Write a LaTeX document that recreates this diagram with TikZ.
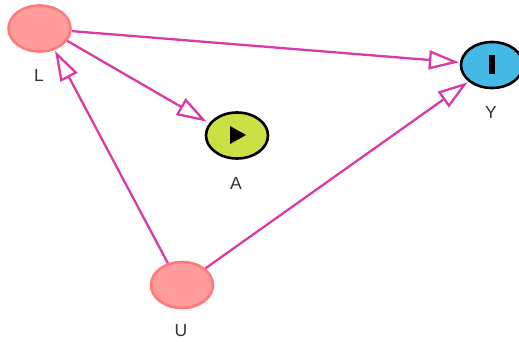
\documentclass[tikz,border=0pt]{standalone}
\usepackage{fontspec}
\setmainfont{Liberation Sans}
\usetikzlibrary{arrows.meta,shapes.geometric}
\definecolor{edgepink}{HTML}{DB3AA6}
\definecolor{latentfill}{HTML}{FF9C9C}
\definecolor{latentline}{HTML}{FF7A7A}
\definecolor{expfill}{HTML}{CBE045}
\definecolor{outfill}{HTML}{45B9E6}
\definecolor{labelgray}{HTML}{333333}
\tikzset{
  x=1pt,y=-1pt,
  varnode/.style={ellipse,inner sep=0pt,minimum width=62pt,minimum height=46pt,line width=2.6pt},
  latent/.style={varnode,draw=latentline,fill=latentfill},
  exposure/.style={varnode,draw=black,fill=expfill},
  outcome/.style={varnode,draw=black,fill=outfill},
  edge/.style={draw=edgepink,line width=2.3pt,-{Triangle[open,length=30pt,width=19pt,fill=white,line width=2.3pt]},shorten >=1pt},
  varlabel/.style={text=labelgray,font=\fontsize{17.5}{17.5}\selectfont,inner sep=0pt}
}
\begin{document}
\begin{tikzpicture}
\useasboundingbox (0,0) rectangle (519,343);
\node[latent] (L) at (39.5,28.5) {};
\node[exposure] (A) at (237,135.5) {};
\node[outcome] (Y) at (492,65) {};
\node[latent] (U) at (182,285) {};
\node[varlabel] (Ll) at (39,75) {L};
\node[varlabel] (Al) at (236,183) {A};
\node[varlabel] (Yl) at (491,112) {Y};
\node[varlabel] (Ul) at (181,331) {U};
\fill[black] (230,126) -- (246,135) -- (230,144) -- cycle;
\fill[black] (488.5,55) rectangle (494.5,74);
\draw[edge] (L) -- (Y);
\draw[edge,shorten >=3pt] (L.-24) -- (A.156);
\draw[edge] (U.123) -- (L.-55);
\draw[edge] (U) -- (Y);
\end{tikzpicture}
\end{document}
